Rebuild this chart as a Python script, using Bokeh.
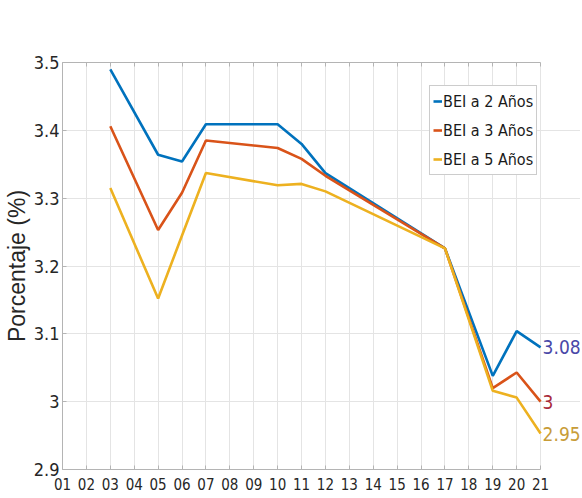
from bokeh.plotting import figure
from bokeh.models import (Range1d, FixedTicker, CustomJSTickFormatter, ColumnDataSource,
                          LabelSet, Legend, LegendItem, LinearAxis)
from bokeh.core.properties import value
from bokeh.embed import file_html
from bokeh.resources import INLINE

# ---- data ----
x_tick_pos = list(range(1, 22))
x_tick_labels = ["01", "02", "03", "04", "05", "06", "07", "08", "09", "10", "11",
                 "12", "13", "14", "15", "16", "17", "18", "19", "20", "21"]
y_ticks = [2.9, 3.0, 3.1, 3.2, 3.3, 3.4, 3.5]

x_pos = [3, 5, 6, 7, 10, 11, 12, 17, 19, 20, 21]
bei2 = [3.490, 3.364, 3.354, 3.409, 3.409, 3.380, 3.337, 3.226, 3.038, 3.104, 3.080]
bei3 = [3.406, 3.253, 3.308, 3.385, 3.374, 3.358, 3.333, 3.226, 3.020, 3.043, 3.000]
bei5 = [3.315, 3.152, 3.245, 3.337, 3.319, 3.321, 3.310, 3.226, 3.016, 3.006, 2.953]

series_names = ["BEI a 2 Años", "BEI a 3 Años", "BEI a 5 Años"]
series_colors = ["#0072BD", "#D95319", "#EDB120"]

end_labels = ["3.08", "3", "2.95"]
end_label_y = [bei2[-1], bei3[-1], bei5[-1]]
end_label_colors = ["#4a48a8", "#a82a3a", "#c89c38"]

NARROW = "DejaVu Sans Condensed, Liberation Sans"

X0, X1 = 1, 21
p = figure(width=580, height=496, output_backend="svg", toolbar_location=None,
           x_range=Range1d(X0, 22.67), y_range=Range1d(2.9, 3.5),
           min_border_left=62, min_border_right=0, min_border_top=62, min_border_bottom=27)

p.background_fill_color = "white"
p.border_fill_color = "white"
p.outline_line_color = None

renderers = []
for ys, c in zip([bei2, bei3, bei5], series_colors):
    r = p.line(x_pos, ys, line_color=c, line_width=2.6)
    renderers.append(r)

bottom_axis = p.below[0]
left_axis = p.left[0]

# axes
bottom_axis.ticker = FixedTicker(ticks=x_tick_pos)
bottom_axis.major_label_overrides = {k: v for k, v in zip(x_tick_pos, x_tick_labels)}
bottom_axis.bounds = (X0, X1)
left_axis.ticker = FixedTicker(ticks=y_ticks)
left_axis.formatter = CustomJSTickFormatter(code="return String(Number(tick.toFixed(1)));")

top_axis = LinearAxis(ticker=FixedTicker(ticks=x_tick_pos), bounds=(X0, X1),
                      major_label_text_alpha=0, major_label_text_font_size="1px",
                      major_label_standoff=0)
top_axis.major_label_overrides = {k: "" for k in x_tick_pos}
p.add_layout(top_axis, "above")

for ax in [bottom_axis, left_axis, top_axis]:
    ax.axis_line_color = "#b4b4b4"
    ax.major_tick_line_color = "#b4b4b4"
    ax.major_tick_in = 4
    ax.major_tick_out = 0
    ax.minor_tick_line_color = None

for ax in [bottom_axis, left_axis]:
    ax.major_label_text_color = "#262626"
    ax.major_label_text_font = NARROW

bottom_axis.major_label_text_font_size = "15px"
bottom_axis.major_label_standoff = 8
left_axis.major_label_text_font_size = "18px"
left_axis.major_label_standoff = 3

left_axis.axis_label = "Porcentaje (%)"
left_axis.axis_label_text_font = "Liberation Sans"
left_axis.axis_label_text_font_style = "normal"
left_axis.axis_label_text_font_size = "23px"
left_axis.axis_label_text_color = "#262626"
left_axis.axis_label_standoff = 1

p.xgrid.grid_line_color = "#e4e4e4"
p.ygrid.grid_line_color = "#e4e4e4"
p.xgrid.ticker = FixedTicker(ticks=x_tick_pos)
p.ygrid.ticker = FixedTicker(ticks=y_ticks)
p.ygrid.bounds = (X0, X1)

# end labels
src = ColumnDataSource(dict(x=[x_pos[-1]] * 3, y=end_label_y, text=end_labels, color=end_label_colors))
labels = LabelSet(x="x", y="y", text="text", source=src, text_color="color",
                  x_offset=2, text_baseline="middle", text_align="left",
                  text_font=value(NARROW), text_font_size=value("19px"))
p.add_layout(labels)

# legend
legend = Legend(items=[LegendItem(label=n, renderers=[r]) for n, r in zip(series_names, renderers)],
                location=(367, 294))
legend.label_text_font = NARROW
legend.label_text_font_size = "16px"
legend.label_text_color = "#1a1a1a"
legend.glyph_width = 9
legend.glyph_height = 24
legend.label_height = 24
legend.label_standoff = 1
legend.spacing = 5
legend.padding = 3
legend.margin = 0
legend.border_line_color = "#9a9a9a"
legend.border_line_width = 1
legend.background_fill_color = "white"
legend.background_fill_alpha = 1
p.add_layout(legend)

open("out.html", "w").write(file_html(p, INLINE))
